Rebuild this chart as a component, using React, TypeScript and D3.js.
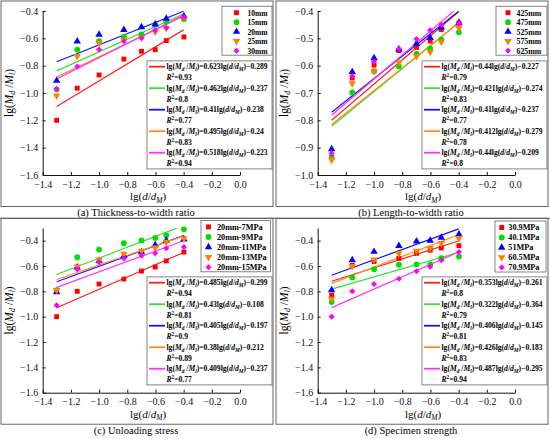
import { useEffect, useRef } from 'react'
import * as d3 from 'd3'

// shared x positions lg(d/dM)
const xValues = [-1.301, -1.155, -1.0, -0.824, -0.699, -0.602, -0.523, -0.398]
const xTicks = [-1.4, -1.2, -1.0, -0.8, -0.6, -0.4, -0.2, 0.0]
const colors = ['#ff0000', '#00dd00', '#0000ff', '#ff8000', '#ff00ff']
const lineColors = ['#ff2020', '#33e033', '#1010ff', '#ff8c1a', '#ff33ff']

// (a) thickness-to-width ratio
const thicknessLabels = ['10mm', '15mm', '20mm', '25mm', '30mm']
const thicknessValues = [
  [-1.2, -0.965, -0.868, -0.752, -0.695, -0.683, -0.617, -0.59],
  [-0.975, -0.682, -0.62, -0.59, -0.571, -0.5, -0.478, -0.46],
  [-0.91, -0.622, -0.572, -0.538, -0.518, -0.497, -0.456, -0.438],
  [-1.02, -0.73, -0.636, -0.612, -0.595, -0.551, -0.525, -0.45],
  [-0.968, -0.807, -0.681, -0.622, -0.597, -0.54, -0.522, -0.445],
]
const thicknessSlopes = [0.623, 0.462, 0.41, 0.495, 0.518]
const thicknessIntercepts = [-0.289, -0.237, -0.238, -0.24, -0.223]
const thicknessR2 = [0.93, 0.8, 0.77, 0.83, 0.94]

// (b) length-to-width ratio
const lengthLabels = ['425mm', '475mm', '525mm', '575mm', '625mm']
const lengthValues = [
  [-0.935, -0.645, -0.598, -0.545, -0.533, -0.51, -0.468, -0.445],
  [-0.938, -0.698, -0.62, -0.603, -0.557, -0.537, -0.505, -0.478],
  [-0.905, -0.623, -0.572, -0.54, -0.52, -0.498, -0.46, -0.442],
  [-0.945, -0.665, -0.62, -0.588, -0.565, -0.55, -0.512, -0.462],
  [-0.92, -0.638, -0.585, -0.538, -0.502, -0.47, -0.45, -0.445],
]
const lengthSlopes = [0.44, 0.421, 0.41, 0.412, 0.44]
const lengthIntercepts = [-0.227, -0.274, -0.237, -0.279, -0.209]
const lengthR2 = [0.79, 0.83, 0.77, 0.78, 0.8]

// (c) unloading stress
const stressLabels = ['20mm-7MPa', '20mm-9MPa', '20mm-11MPa', '20mm-13MPa', '20mm-15MPa']
const stressValues = [
  [-1.0, -0.8, -0.742, -0.703, -0.64, -0.608, -0.56, -0.49],
  [-0.79, -0.53, -0.47, -0.42, -0.398, -0.378, -0.358, -0.31],
  [-0.805, -0.61, -0.56, -0.52, -0.49, -0.435, -0.4, -0.39],
  [-0.79, -0.605, -0.55, -0.505, -0.48, -0.455, -0.41, -0.385],
  [-0.91, -0.625, -0.57, -0.54, -0.52, -0.5, -0.46, -0.45],
]
const stressSlopes = [0.485, 0.43, 0.405, 0.38, 0.409]
const stressIntercepts = [-0.299, -0.108, -0.197, -0.212, -0.237]
const stressR2 = [0.94, 0.81, 0.9, 0.89, 0.77]

// (d) specimen strength
const strengthLabels = ['30.9MPa', '40.1MPa', '51MPa', '60.5MPa', '70.9MPa']
const strengthValues = [
  [-0.83, -0.595, -0.565, -0.54, -0.5, -0.475, -0.458, -0.44],
  [-0.885, -0.69, -0.625, -0.59, -0.588, -0.59, -0.538, -0.525],
  [-0.79, -0.553, -0.487, -0.44, -0.405, -0.4, -0.375, -0.35],
  [-0.86, -0.602, -0.55, -0.5, -0.48, -0.458, -0.42, -0.38],
  [-1.0, -0.8, -0.742, -0.7, -0.642, -0.605, -0.555, -0.49],
]
const strengthSlopes = [0.353, 0.322, 0.406, 0.426, 0.487]
const strengthIntercepts = [-0.261, -0.364, -0.145, -0.183, -0.295]
const strengthR2 = [0.8, 0.79, 0.81, 0.83, 0.94]

const yTicksWide = [-1.6, -1.4, -1.2, -1.0, -0.8, -0.6, -0.4]
const yTicksNarrow = [-1.0, -0.9, -0.8, -0.7, -0.6, -0.5, -0.4]

const FONT = "'Liberation Serif', 'Times New Roman', serif"

type Panel = {
  id: string
  ox: number
  oy: number
  caption: string
  labels: string[]
  values: number[][]
  slopes: number[]
  intercepts: number[]
  r2: number[]
  yDomain: [number, number]
  yTicks: number[]
  yFormat: string
  top: number
  bottom: number
  frameTop: number
  legend: { x0: number; x1: number; row: number; step: number; mx: number; tx: number; fs: number }
  fitTop: number
}

const panels: Panel[] = [
  {
    id: 'a', ox: 0, oy: 0, caption: '(a) Thickness-to-width ratio',
    labels: thicknessLabels, values: thicknessValues, slopes: thicknessSlopes,
    intercepts: thicknessIntercepts, r2: thicknessR2,
    yDomain: [-1.6, -0.4], yTicks: yTicksWide, yFormat: '.1f', top: 11, bottom: 175, frameTop: 1,
    legend: { x0: 222, x1: 272, row: 12.7, step: 9.5, mx: 236.5, tx: 247.5, fs: 7.5 },
    fitTop: 66.7,
  },
  {
    id: 'b', ox: 275, oy: 0, caption: '(b) Length-to-width ratio',
    labels: lengthLabels, values: lengthValues, slopes: lengthSlopes,
    intercepts: lengthIntercepts, r2: lengthR2,
    yDomain: [-1.0, -0.4], yTicks: yTicksNarrow, yFormat: '.1f', top: 11, bottom: 175, frameTop: 1,
    legend: { x0: 221, x1: 272, row: 12.7, step: 9.5, mx: 233, tx: 241.5, fs: 7.8 },
    fitTop: 66.7,
  },
  {
    id: 'c', ox: 0, oy: 220, caption: '(c) Unloading stress',
    labels: stressLabels, values: stressValues, slopes: stressSlopes,
    intercepts: stressIntercepts, r2: stressR2,
    yDomain: [-1.6, -0.3], yTicks: yTicksWide, yFormat: '.1f', top: 8, bottom: 172.7, frameTop: -1.7,
    legend: { x0: 201, x1: 270.5, row: 6.9, step: 10.1, mx: 208.5, tx: 217, fs: 8.2 },
    fitTop: 62.7,
  },
  {
    id: 'd', ox: 275, oy: 220, caption: '(d) Specimen strength',
    labels: strengthLabels, values: strengthValues, slopes: strengthSlopes,
    intercepts: strengthIntercepts, r2: strengthR2,
    yDomain: [-1.6, -0.3], yTicks: yTicksWide, yFormat: '.1f', top: 8, bottom: 172.7, frameTop: -1.7,
    legend: { x0: 220, x1: 271, row: 7.5, step: 10, mx: 226.7, tx: 233.3, fs: 8.2 },
    fitTop: 62.7,
  },
]

const symbols = [
  { type: d3.symbolSquare, size: 24, rotate: 0 },
  { type: d3.symbolCircle, size: 26, rotate: 0 },
  { type: d3.symbolTriangle, size: 24, rotate: 0 },
  { type: d3.symbolTriangle, size: 24, rotate: 180 },
  { type: d3.symbolSquare, size: 18, rotate: 45 },
]

function drawPanel(svg: d3.Selection<SVGSVGElement, unknown, null, undefined>, p: Panel) {
  const g = svg.append('g').attr('transform', `translate(${p.ox},${p.oy})`)
  const left = 42.7
  const right = 240
  const x = d3.scaleLinear().domain([-1.4, 0]).range([left, right])
  const y = d3.scaleLinear().domain(p.yDomain).range([p.bottom, p.top])

  // frame
  g.append('rect')
    .attr('x', 1).attr('y', p.frameTop)
    .attr('width', 272).attr('height', p.bottom + 31.5 - p.frameTop)
    .attr('fill', 'none').attr('stroke', '#555').attr('stroke-width', 0.9)

  g.append('clipPath').attr('id', `clip-${p.id}`)
    .append('rect').attr('x', left).attr('y', p.top)
    .attr('width', right - left).attr('height', p.bottom - p.top)

  // axes
  const xAxis = g.append('g')
    .attr('transform', `translate(0,${p.bottom})`)
    .call(d3.axisBottom(x).tickValues(xTicks).tickFormat(d3.format('.1f')).tickSize(-3).tickSizeOuter(0).tickPadding(5.5))
  const yAxis = g.append('g')
    .attr('transform', `translate(${left},0)`)
    .call(d3.axisLeft(y).tickValues(p.yTicks).tickFormat(d3.format(p.yFormat)).tickSize(-3).tickSizeOuter(0).tickPadding(4.5))
  for (const ax of [xAxis, yAxis]) {
    ax.attr('font-family', FONT).attr('font-size', 10).attr('color', '#111')
  }

  // fit lines
  const fits = g.append('g').attr('clip-path', `url(#clip-${p.id})`)
  const x0 = xValues[0]
  const x1 = -0.4
  p.slopes.forEach((k, i) => {
    const b = p.intercepts[i]
    fits.append('line')
      .attr('x1', x(x0)).attr('y1', y(k * x0 + b))
      .attr('x2', x(x1)).attr('y2', y(k * x1 + b))
      .attr('stroke', lineColors[i]).attr('stroke-width', 1.2)
  })

  // points
  p.values.forEach((vals, i) => {
    const s = symbols[i]
    const path = d3.symbol(s.type, s.size)()
    g.append('g').selectAll('path')
      .data(vals)
      .join('path')
      .attr('d', path)
      .attr('transform', (v, j) => `translate(${x(xValues[j])},${y(v)}) rotate(${s.rotate})`)
      .attr('fill', colors[i])
  })

  // marker legend
  const L = p.legend
  const rowsBottom = L.row + L.step * (p.labels.length - 1)
  g.append('rect')
    .attr('x', L.x0).attr('y', L.row - 6.5)
    .attr('width', L.x1 - L.x0).attr('height', rowsBottom - L.row + 11)
    .attr('fill', '#fff').attr('stroke', '#666').attr('stroke-width', 0.8)
  p.labels.forEach((lab, i) => {
    const s = symbols[i]
    const cy = L.row + L.step * i
    g.append('path')
      .attr('d', d3.symbol(s.type, s.size)())
      .attr('transform', `translate(${L.mx},${cy}) rotate(${s.rotate})`)
      .attr('fill', colors[i])
    g.append('text')
      .attr('x', L.tx).attr('y', cy + 2.8)
      .attr('font-family', FONT).attr('font-size', L.fs).attr('font-weight', 'bold')
      .text(lab)
  })

  // fit legend
  const step = 21.5
  g.append('rect')
    .attr('x', 147).attr('y', p.fitTop - 5.8)
    .attr('width', 125).attr('height', step * 4 + 11 + 11)
    .attr('fill', '#fff').attr('stroke', '#666').attr('stroke-width', 0.8)
  p.slopes.forEach((k, i) => {
    const cy = p.fitTop + step * i
    g.append('line')
      .attr('x1', 149).attr('x2', 165).attr('y1', cy).attr('y2', cy)
      .attr('stroke', lineColors[i]).attr('stroke-width', 1.8)
    const t = g.append('text')
      .attr('x', 166.5).attr('y', cy + 2.7)
      .attr('font-family', FONT).attr('font-size', 7.6).attr('font-weight', 'bold')
    const b = p.intercepts[i]
    t.append('tspan').text('lg(')
    t.append('tspan').attr('font-style', 'italic').text('M')
    t.append('tspan').attr('dy', 1.8).attr('font-size', 5.4).attr('font-style', 'italic').text('d')
    t.append('tspan').attr('dy', -1.8).text(' /')
    t.append('tspan').attr('font-style', 'italic').text('M')
    t.append('tspan').attr('dy', 1.8).attr('font-size', 5.4).attr('font-style', 'italic').text('l')
    t.append('tspan').attr('dy', -1.8).text(`)=${k}lg(`)
    t.append('tspan').attr('font-style', 'italic').text('d')
    t.append('tspan').text('/')
    t.append('tspan').attr('font-style', 'italic').text('d')
    t.append('tspan').attr('dy', 1.8).attr('font-size', 5.4).attr('font-style', 'italic').text('M')
    t.append('tspan').attr('dy', -1.8).text(`)${b < 0 ? '\u2212' : '+'}${Math.abs(b)}`)

    const r = g.append('text')
      .attr('x', 166.5).attr('y', cy + 11 + 2.7)
      .attr('font-family', FONT).attr('font-size', 7.6).attr('font-weight', 'bold')
    r.append('tspan').attr('font-style', 'italic').text('R')
    r.append('tspan').attr('dy', -3).attr('font-size', 5.2).text('2')
    r.append('tspan').attr('dy', 3).text(`=${p.r2[i]}`)
  })

  // axis titles
  const yt = g.append('text')
    .attr('transform', `translate(12.5,${(p.top + p.bottom) / 2}) rotate(-90)`)
    .attr('text-anchor', 'middle')
    .attr('font-family', FONT).attr('font-size', 11.5)
  yt.append('tspan').text('lg(')
  yt.append('tspan').attr('font-style', 'italic').text('M')
  yt.append('tspan').attr('dy', 2.5).attr('font-size', 8).attr('font-style', 'italic').text('d')
  yt.append('tspan').attr('dy', -2.5).text(' /')
  yt.append('tspan').attr('font-style', 'italic').text('M')
  yt.append('tspan').attr('dy', 2.5).attr('font-size', 8).attr('font-style', 'italic').text('l')
  yt.append('tspan').attr('dy', -2.5).text(')')

  const xt = g.append('text')
    .attr('x', 148).attr('y', p.bottom + 25)
    .attr('text-anchor', 'middle')
    .attr('font-family', FONT).attr('font-size', 11)
  xt.append('tspan').text('lg(')
  xt.append('tspan').attr('font-style', 'italic').text('d')
  xt.append('tspan').text('/')
  xt.append('tspan').attr('font-style', 'italic').text('d')
  xt.append('tspan').attr('dy', 2.5).attr('font-size', 7.5).attr('font-style', 'italic').text('M')
  xt.append('tspan').attr('dy', -2.5).text(')')

  g.append('text')
    .attr('x', 136).attr('y', p.bottom + 41)
    .attr('text-anchor', 'middle')
    .attr('font-family', FONT).attr('font-size', 10.5)
    .text(p.caption)
}

export default function App() {
  const svgRef = useRef<SVGSVGElement>(null)

  useEffect(() => {
    if (!svgRef.current) return
    const svg = d3.select(svgRef.current)
    svg.selectAll('*').remove()
    svg.append('rect').attr('width', 550).attr('height', 439).attr('fill', '#fff')
    panels.forEach(p => drawPanel(svg, p))
    // rule under the top captions
    svg.append('line')
      .attr('x1', 0).attr('x2', 550).attr('y1', 218.3).attr('y2', 218.3)
      .attr('stroke', '#555').attr('stroke-width', 0.9)
  }, [])

  return (
    <svg
      ref={svgRef}
      width={550}
      height={439}
      style={{ position: 'absolute', left: 0, top: 0 }}
    />
  )
}
